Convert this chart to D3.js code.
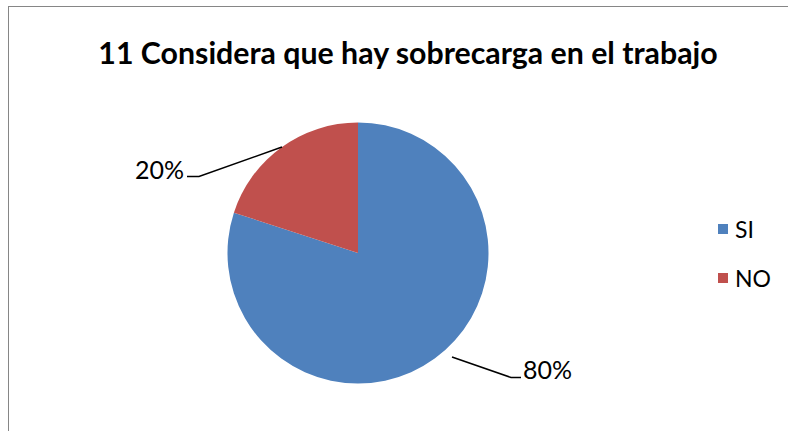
<!DOCTYPE html>
<html>
<head>
<meta charset="utf-8">
<script src="https://cdn.jsdelivr.net/npm/d3@7"></script>
<style>
  body { margin: 0; background: #fff; }
  svg { display: block; font-family: Lato, "Open Sans", sans-serif; }
</style>
</head>
<body>
<svg id="chart" width="788" height="431"></svg>
<script>
// data
const categories = ["SI", "NO"];
const values = [80, 20];
const labels = ["80%", "20%"];
const colors = ["#4f81bd", "#c0504d"];

const svg = d3.select("#chart");

// frame
svg.append("rect")
  .attr("x", 8.5).attr("y", 6.5)
  .attr("width", 800).attr("height", 440)
  .attr("fill", "none")
  .attr("stroke", "#868686");

svg.append("text")
  .attr("x", 408).attr("y", 64)
  .attr("text-anchor", "middle")
  .attr("font-size", 30.3)
  .attr("font-weight", "bold")
  .text("11 Considera que hay sobrecarga en el trabajo");

const cx = 358, cy = 253, r = 130.5;
const pie = d3.pie().sort(null).value(d => d)(values);
const arc = d3.arc().innerRadius(0).outerRadius(r);

const g = svg.append("g").attr("transform", `translate(${cx},${cy})`);
g.selectAll("path")
  .data(pie)
  .enter()
  .append("path")
  .attr("d", arc)
  .attr("fill", (d, i) => colors[i]);

// data labels with leader lines
const leaders = [
  { pts: [[452, 357], [511, 377.5], [521, 377.5]], tx: 523, ty: 379, anchor: "start" },
  { pts: [[282, 147], [199, 176.5], [187, 176.5]], tx: 184, ty: 179, anchor: "end" }
];
pie.forEach((d, i) => {
  const L = leaders[i];
  svg.append("path")
    .attr("d", d3.line()(L.pts))
    .attr("fill", "none")
    .attr("stroke", "#000")
    .attr("stroke-width", 1.5);
  svg.append("text")
    .attr("x", L.tx).attr("y", L.ty)
    .attr("text-anchor", L.anchor)
    .attr("font-size", 25)
    .text(labels[i]);
});

// legend
const leg = svg.append("g");
categories.forEach((c, i) => {
  const y = 224 + i * 49;
  leg.append("rect")
    .attr("x", 718).attr("y", y)
    .attr("width", 10).attr("height", 10)
    .attr("fill", colors[i]);
  leg.append("text")
    .attr("x", 735).attr("y", y + 14)
    .attr("font-size", 23)
    .text(c);
});
</script>
</body>
</html>
